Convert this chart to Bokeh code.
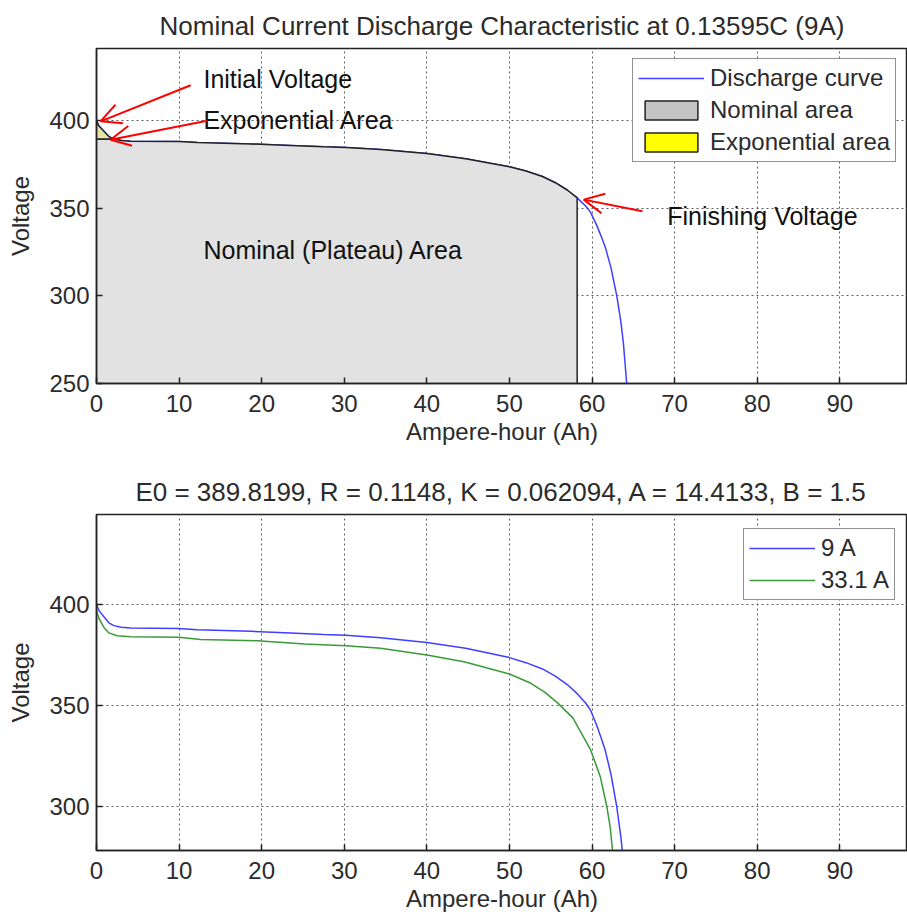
from bokeh.plotting import figure
from bokeh.models import (Range1d, Legend, LegendItem, Arrow, OpenHead, Label, FixedTicker)
from bokeh.layouts import column
from bokeh.embed import file_html
from bokeh.resources import INLINE

# ---------------- data ----------------
ah_9a = [0, 0.3, 0.9, 1.5, 2.1, 3.0, 4.1, 10, 12.2, 18.7, 23.5, 27.5, 30.2, 34.4,
         40, 44.7, 50, 52, 54, 55.5, 57, 58.2, 59.2, 59.8, 60.6, 61.2, 61.6, 62.3,
         63.0, 63.5, 63.8, 64.2]
v_9a = [400, 397, 394, 391, 389.6, 388.8, 388.4, 388.2, 387.6, 386.8, 385.9, 385.2,
        384.8, 383.6, 381.3, 378.4, 373.8, 371.3, 368.2, 364.8, 360.5, 356, 351.5,
        348, 340, 333, 328, 316, 300, 285, 273, 250]

ah_33a = [0, 0.3, 0.9, 1.5, 2.5, 4.1, 10, 12.6, 19.5, 25.2, 30.2, 34.4, 40, 44.5,
          50, 52.6, 54.3, 55.9, 57.7, 59.8, 61.0, 61.8, 62.2, 62.5]
v_33a = [397, 393, 388.7, 386, 384.6, 384.1, 383.8, 382.8, 382.1, 380.5, 379.6,
         378.4, 375.1, 371.8, 365.7, 361.1, 356.6, 351.2, 343.9, 328.5, 315, 300,
         290, 278]

exp_end_ah = 2.1      # end of exponential zone
finish_ah = 58.2      # finishing voltage point

x_ticks = [0, 10, 20, 30, 40, 50, 60, 70, 80, 90]
top_y_ticks = [250, 300, 350, 400]
bottom_y_ticks = [300, 350, 400]

top_title = "Nominal Current Discharge Characteristic at 0.13595C (9A)"
bottom_title = "E0 = 389.8199, R = 0.1148, K = 0.062094, A = 14.4133, B = 1.5"
x_label = "Ampere-hour (Ah)"
y_label = "Voltage"

# annotations: (text, x, y) and arrows (tail x, tail y, head x, head y)
note_texts = ["Initial Voltage", "Exponential Area", "Nominal (Plateau) Area", "Finishing Voltage"]
note_x = [12.95, 12.95, 12.95, 69.1]
note_y = [423.7, 400.4, 326.0, 345.9]
arrow_x0 = [11.4, 13.4, 66.1]
arrow_y0 = [420.3, 400.0, 348.4]
arrow_x1 = [0.5, 1.7, 59.0]
arrow_y1 = [399.7, 389.2, 355.0]

FONT = "Liberation Sans"
TXT = "#2b2b2b"
BLUE = "#3f3fff"
GREEN = "#3a9a3a"


def make_fig(height, y0, y1, yticks, title, top_border, bottom_border, title_offset):
    p = figure(width=907, height=height, x_range=Range1d(0, 98.2), y_range=Range1d(y0, y1),
               output_backend="svg", toolbar_location=None,
               min_border_left=96, min_border_right=0,
               min_border_top=top_border, min_border_bottom=bottom_border,
               background_fill_color="white", border_fill_color="white")
    p.title.text = title
    p.title.text_font = FONT
    p.title.text_font_size = "26px"
    p.title.text_font_style = "normal"
    p.title.text_color = TXT
    p.title.align = "center"
    p.title.standoff = 16
    p.title.offset = title_offset
    p.outline_line_color = "#222222"
    p.outline_line_width = 1.5

    p.xaxis.ticker = FixedTicker(ticks=x_ticks)
    p.yaxis.ticker = FixedTicker(ticks=yticks)
    for ax in (p.xaxis[0], p.yaxis[0]):
        ax.major_label_text_font = FONT
        ax.major_label_text_font_size = "24px"
        ax.major_label_text_color = TXT
        ax.axis_label_text_font = FONT
        ax.axis_label_text_font_size = "24px"
        ax.axis_label_text_font_style = "normal"
        ax.axis_label_text_color = TXT
        ax.axis_line_color = "#222222"
        ax.axis_line_width = 1.5
        ax.major_tick_in = 6
        ax.major_tick_out = 0
        ax.major_tick_line_color = "#222222"
        ax.major_tick_line_width = 1.5
        ax.minor_tick_line_color = None
    p.xaxis.axis_label = x_label
    p.yaxis.axis_label = y_label
    p.xaxis.major_label_standoff = 11
    p.xaxis.axis_label_standoff = 3
    p.yaxis.major_label_standoff = 7
    p.yaxis.axis_label_standoff = 12

    for g in (p.xgrid[0], p.ygrid[0]):
        g.grid_line_color = "#5e5e5e"
        g.grid_line_dash = "2 3"
        g.grid_line_width = 1
    return p


# ---------------- top figure ----------------
p1 = make_fig(455, 250, 441.3, top_y_ticks, top_title, 46, 72, 0)

curve = p1.line(ah_9a, v_9a, line_color=BLUE, line_width=1.5)

exp_v_end = v_9a[ah_9a.index(exp_end_ah)]
nom_x = [0] + [a for a in ah_9a if exp_end_ah <= a <= finish_ah] + [finish_ah, 0]
nom_y = [exp_v_end] + [v for a, v in zip(ah_9a, v_9a) if exp_end_ah <= a <= finish_ah] + [250, 250]
exp_x = [a for a in ah_9a if a <= exp_end_ah] + [0]
exp_y = [v for a, v in zip(ah_9a, v_9a) if a <= exp_end_ah] + [exp_v_end]

p1.patch(nom_x, nom_y, fill_color="#e2e2e2", line_color="#222222", line_width=1.5)
p1.patch(exp_x, exp_y, fill_color="#e4e4a8", line_color="#222222", line_width=1.5)

# legend swatches (same shapes, hidden; drawn only in the legend in full colour)
leg_nom = p1.patch(nom_x, nom_y, fill_color="#c4c4c4", line_color="#222222",
                   line_width=1.5, visible=False)
leg_exp = p1.patch(exp_x, exp_y, fill_color="#ffff00", line_color="#222222",
                   line_width=1.5, visible=False)

for t, x, y in zip(note_texts, note_x, note_y):
    p1.add_layout(Label(x=x, y=y, text=t, text_font=FONT, text_font_size="25px",
                        text_color="#111111", text_baseline="middle", text_align="left"))
for x0, y0, x1, y1 in zip(arrow_x0, arrow_y0, arrow_x1, arrow_y1):
    p1.add_layout(Arrow(x_start=x0, y_start=y0, x_end=x1, y_end=y1,
                        line_color="red", line_width=2,
                        end=OpenHead(size=20, line_color="red", line_width=2)))

leg1 = Legend(items=[LegendItem(label="Discharge curve", renderers=[curve]),
                     LegendItem(label="Nominal area", renderers=[leg_nom]),
                     LegendItem(label="Exponential area", renderers=[leg_exp])],
              location=(536, 221))
p1.add_layout(leg1)

# ---------------- bottom figure ----------------
p2 = make_fig(465, 278.5, 444.5, bottom_y_ticks, bottom_title, 59, 70, -10)
l9 = p2.line(ah_9a, v_9a, line_color=BLUE, line_width=1.5)
l33 = p2.line(ah_33a, v_33a, line_color=GREEN, line_width=1.5)
leg2 = Legend(items=[LegendItem(label="9 A", renderers=[l9]),
                     LegendItem(label="33.1 A", renderers=[l33])],
              location=(647, 250))
p2.add_layout(leg2)

for lg in (leg1, leg2):
    lg.label_text_font = FONT
    lg.label_text_font_size = "24px"
    lg.label_text_color = TXT
    lg.glyph_width = 66
    lg.glyph_height = 24
    lg.label_standoff = 6
    lg.spacing = 4
    lg.padding = 5
    lg.margin = 0
    lg.border_line_color = "#222222"
    lg.border_line_width = 1.5
    lg.background_fill_alpha = 1
    lg.inactive_fill_alpha = 0

layout = column(p1, p2, spacing=0)
open("out.html", "w").write(file_html(layout, INLINE))
